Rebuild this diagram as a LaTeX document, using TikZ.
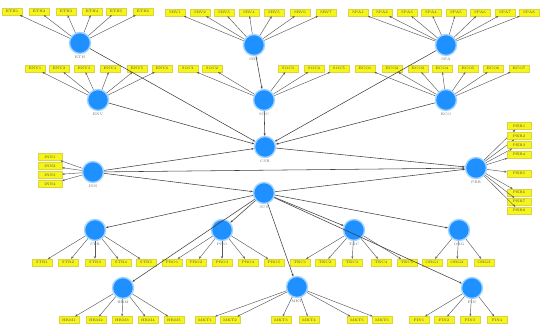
\documentclass[tikz,border=0pt]{standalone}
\usetikzlibrary{arrows.meta}
\definecolor{lvblue}{RGB}{30,144,255}
\definecolor{lvglow}{RGB}{160,210,255}
\definecolor{mvyellow}{RGB}{245,245,25}
\definecolor{mvedge}{RGB}{220,210,70}
\begin{document}
\begin{tikzpicture}[x=1pt, y=-1pt, >={Stealth[length=2.6pt, width=2pt]},
	lv/.style={circle, fill=lvblue, draw=lvglow, line width=1.4pt, minimum size=21pt, inner sep=0pt},
	mv/.style={rectangle, fill=mvyellow, draw=mvedge, line width=0.3pt, minimum width=20pt, minimum height=7pt, inner sep=0pt, font=\fontsize{3.6}{4}\selectfont, text=black!70},
	lbl/.style={font=\fontsize{3.6}{4}\selectfont, text=black!60, inner sep=1.5pt},
	lvpath/.style={->, draw=black!75, line width=0.55pt},
	ldg/.style={->, draw=black!65, line width=0.45pt}]
	\useasboundingbox (0,0) rectangle (546,327);
	
	% Các biến tiềm ẩn
	\node[lv, label={[lbl]below:ETH}] (ETH) at (80,43) {};
	\node[lv, label={[lbl]below:SRV}] (SRV) at (254,45) {};
	\node[lv, label={[lbl]below:SPA}] (SPA) at (446,45) {};
	\node[lv, label={[lbl]below:ENV}] (ENV) at (98,100) {};
	\node[lv, label={[lbl]below:SOC}] (SOC) at (264,100) {};
	\node[lv, label={[lbl]below:ECO}] (ECO) at (446,100) {};
	\node[lv, label={[lbl]below:CSR}] (CSR) at (265,147) {};
	\node[lv, label={[lbl]below:INN}] (INN) at (93,172) {};
	\node[lv, label={[lbl]below:PER}] (PER) at (476,168) {};
	\node[lv, label={[lbl]below:SUS}] (SUS) at (264,193) {};
	\node[lv, label={[lbl]below:STR}] (STR) at (95,230) {};
	\node[lv, label={[lbl]below:PRO}] (PRO) at (222,230) {};
	\node[lv, label={[lbl]below:TEC}] (TEC) at (354,230) {};
	\node[lv, label={[lbl]below:ORG}] (ORG) at (459,230) {};
	\node[lv, label={[lbl]below:HRM}] (HRM) at (123,288) {};
	\node[lv, label={[lbl]below:MKT}] (MKT) at (297,287) {};
	\node[lv, label={[lbl]below:FIN}] (FIN) at (472,288) {};
	
	% Biến quan sát hàng trên
	\foreach \x [count=\i] in {12,39,66,92,116,143}
		{\node[mv] (ETH\i) at (\x,11.5) {ETH\i}; \draw[ldg] (ETH) -- (ETH\i);}
	\foreach \x [count=\i] in {175,200,224,249,274,300,326}
		{\node[mv] (SRV\i) at (\x,12.5) {SRV\i}; \draw[ldg] (SRV) -- (SRV\i);}
	\foreach \x [count=\i] in {358,382,407,431,456,480,505,529}
		{\node[mv] (SPA\i) at (\x,12.5) {SPA\i}; \draw[ldg] (SPA) -- (SPA\i);}
	
	% Biến quan sát hàng thứ hai
	\foreach \x [count=\i] in {35,59,84,110,137,162}
		{\node[mv] (ENV\i) at (\x,68.5) {ENV\i}; \draw[ldg] (ENV) -- (ENV\i);}
	\foreach \x [count=\i] in {188,212,288,314,339}
		{\node[mv] (SOC\i) at (\x,68.5) {SOC\i}; \draw[ldg] (SOC) -- (SOC\i);}
	\foreach \x [count=\i] in {365,392,418,442,468,493,519}
		{\node[mv] (ECO\i) at (\x,68.5) {ECO\i}; \draw[ldg] (ECO) -- (ECO\i);}
	
	% Biến quan sát hai bên
	\foreach \y [count=\i] in {157,166,175,184}
		{\node[mv, minimum width=24pt] (INN\i) at (50,\y) {INN\i}; \draw[ldg] (INN) -- (INN\i);}
	\foreach \y [count=\i] in {126,136,145,154.5,173.5,192.5,201.5,210.5}
		{\node[mv, minimum width=24pt] (PER\i) at (519,\y) {PER\i}; \draw[ldg] (PER) -- (PER\i);}
	
	% Biến quan sát hàng dưới
	\foreach \x [count=\i] in {42,68,95,121,146}
		{\node[mv] (STR\i) at (\x,262.5) {STR\i}; \draw[ldg] (STR) -- (STR\i);}
	\foreach \x [count=\i] in {172,196,222,248,274}
		{\node[mv] (PRO\i) at (\x,262.5) {PRO\i}; \draw[ldg] (PRO) -- (PRO\i);}
	\foreach \x [count=\i] in {300,325,352,381,407}
		{\node[mv] (TEC\i) at (\x,262.5) {TEC\i}; \draw[ldg] (TEC) -- (TEC\i);}
	\foreach \x [count=\i] in {432,457,484}
		{\node[mv] (ORG\i) at (\x,262.5) {ORG\i}; \draw[ldg] (ORG) -- (ORG\i);}
	\foreach \x [count=\i] in {69,96,122,148,174}
		{\node[mv] (HRM\i) at (\x,320) {HRM\i}; \draw[ldg] (HRM) -- (HRM\i);}
	\foreach \x [count=\i] in {205,230,281,309,357,382}
		{\node[mv] (MKT\i) at (\x,320) {MKT\i}; \draw[ldg] (MKT) -- (MKT\i);}
	\foreach \x [count=\i] in {419,444,470,497}
		{\node[mv] (FIN\i) at (\x,320) {FIN\i}; \draw[ldg] (FIN) -- (FIN\i);}
	
	% Mô hình cấu trúc
	\draw[lvpath] (ETH) -- (CSR);
	\draw[lvpath] (SRV) -- (SOC);
	\draw[lvpath] (SOC) -- (CSR);
	\draw[lvpath] (SPA) -- (CSR);
	\draw[lvpath] (ECO) -- (CSR);
	\draw[lvpath] (ENV) -- (CSR);
	\draw[lvpath] (INN) -- (CSR);
	\draw[lvpath] (INN) -- (PER);
	\draw[lvpath] (INN) -- (SUS);
	\draw[lvpath] (CSR) -- (PER);
	\draw[lvpath] (SUS) -- (PER);
	\foreach \t in {STR,PRO,TEC,ORG,HRM,MKT,FIN}
		\draw[lvpath] (SUS) -- (\t);
\end{tikzpicture}
\end{document}
